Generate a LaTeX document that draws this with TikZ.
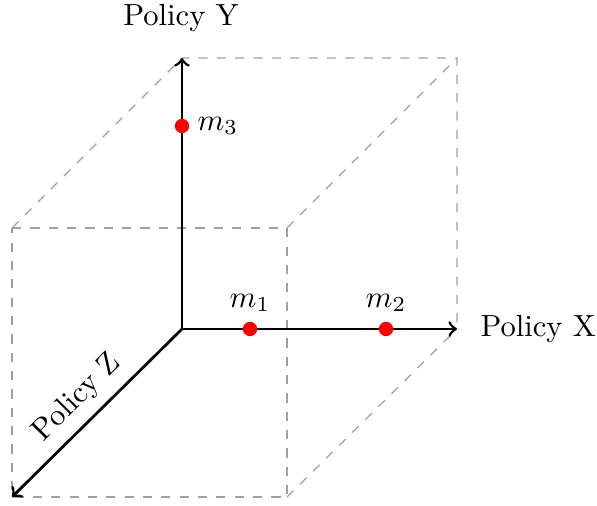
\documentclass[tikz,border=0pt]{standalone}
\begin{document}
\begin{tikzpicture}[x=0.327pt,y=-0.327pt,
  axis/.style={line width=0.9pt,->,line cap=round},
  cube/.style={dashed,gray!75,thin},
  dot/.style={circle,fill=red,inner sep=0pt,minimum size=4.7pt},
  lbl/.style={inner sep=0pt}]
\useasboundingbox (0,0) rectangle (597,505);
% coordinates
\coordinate (O) at (182,329);
\coordinate (X) at (457,329);
\coordinate (Y) at (182,58);
\coordinate (Z) at (12,497);
\coordinate (YX) at (457,58);
\coordinate (FT) at (12,228);
\coordinate (FTR) at (287,228);
\coordinate (FBR) at (287,497);
% cube
\draw[cube] (FT) -- (FTR) -- (FBR) -- (Z) -- cycle;
\draw[cube] (FT) -- (Y) -- (YX) -- (X);
\draw[cube] (FTR) -- (YX);
\draw[cube] (FBR) -- (X);
% axes
\draw[axis] (O) -- (X);
\draw[axis] (O) -- (Y);
\draw[axis] (O) -- (Z);
% labels
\node[lbl] (ly) at (181,18) {Policy Y};
\node[lbl,anchor=west] (lx) at (480,329) {Policy X};
\node[lbl,rotate=45] (lz) at (77,398) {Policy Z};
% points
\node[dot] (m1) at (250,329) {};
\node[dot] (m2) at (386,329) {};
\node[dot] (m3) at (182,126) {};
\node[lbl] (l1) at (250,303) {$m_1$};
\node[lbl] (l2) at (386,303) {$m_2$};
\node[lbl,anchor=west] (l3) at (197,126) {$m_3$};
\end{tikzpicture}
\end{document}
